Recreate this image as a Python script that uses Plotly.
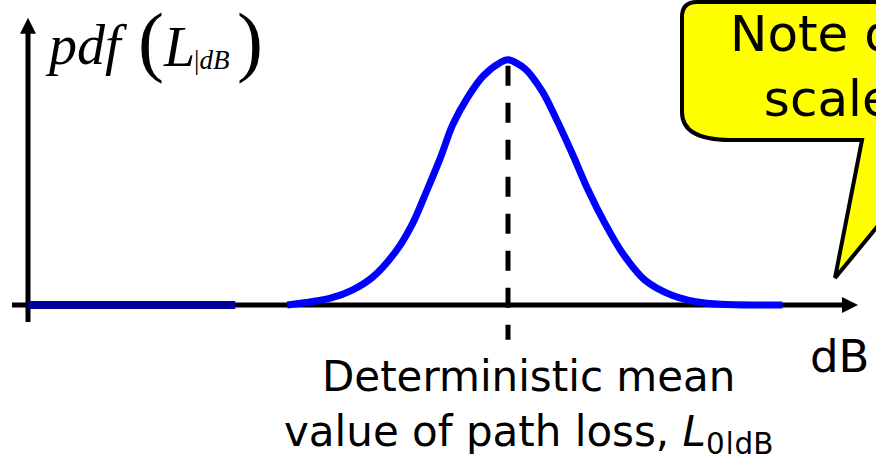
import plotly.graph_objects as go

W, H = 876, 454

# Path loss (dB) and its shadowing density
loss_db = [32.4, 37.8, 40.6, 43.1, 46.1, 48.1, 49.9, 51.5, 53.1, 54.9, 56.9, 59.0, 60.0,
           62.1, 64.3, 65.9, 68.0, 70.0, 72.1, 74.3, 77.1, 80.5, 84.6, 94.3]
pdf_vals = [0.0, 0.0014, 0.0031, 0.0057, 0.0112, 0.0167, 0.0235, 0.0298, 0.0368, 0.0422,
            0.0467, 0.0494, 0.0500, 0.0482, 0.0435, 0.0384, 0.0310, 0.0235, 0.0167, 0.0106,
            0.0051, 0.0020, 0.0004, 0.0]
# flat lower tail drawn along the axis
tail_db = [0.0, 25.9]
tail_pdf = [0.0, 0.0]
mean_db = 60.0

# axis extents (data units)
X_RANGE = [-3.5, 106.0]
Y_RANGE = [-0.0304, 0.0622]
X_AXIS = [-2.0, 101.9, 103.75]      # start, line end, arrow tip
Y_AXIS = [-0.0035, 0.0557, 0.0586]  # start, line end, arrow tip
MEAN_LINE = [0.0488, -0.0071]

FONT = "DejaVu Sans"
SERIF = "Liberation Serif"


def px(x):
    return x / W


def py(y):
    return 1 - y / H


fig = go.Figure()

fig.add_trace(go.Scatter(
    x=tail_db, y=tail_pdf, mode="lines",
    line=dict(color="#000099", width=8), hoverinfo="skip", showlegend=False))
fig.add_trace(go.Scatter(
    x=loss_db, y=pdf_vals, mode="lines",
    line=dict(color="#0000ff", width=7, shape="spline", smoothing=0.9),
    hoverinfo="skip", showlegend=False))

shapes = []
# horizontal (dB) axis with arrow
shapes.append(dict(type="line", xref="x", yref="y", x0=X_AXIS[0], x1=X_AXIS[1], y0=0, y1=0,
                   line=dict(color="black", width=5), layer="below"))
shapes.append(dict(type="path", xref="x", yref="y", xsizemode="pixel", ysizemode="pixel",
                   xanchor=X_AXIS[2], yanchor=0, path="M-16,-8L0,0L-16,8Z",
                   fillcolor="black", line=dict(width=0)))
# vertical (pdf) axis with arrow
shapes.append(dict(type="line", xref="x", yref="y", x0=0, x1=0, y0=Y_AXIS[0], y1=Y_AXIS[1],
                   line=dict(color="black", width=5), layer="below"))
shapes.append(dict(type="path", xref="x", yref="y", xsizemode="pixel", ysizemode="pixel",
                   xanchor=0, yanchor=Y_AXIS[2], path="M-8,-16L0,0L8,-16Z",
                   fillcolor="black", line=dict(width=0)))
# dashed marker at the mean
shapes.append(dict(type="line", xref="x", yref="y", x0=mean_db, x1=mean_db,
                   y0=MEAN_LINE[0], y1=MEAN_LINE[1],
                   line=dict(color="black", width=5, dash="20px,17px")))

# speech-bubble callout
bubble = [("M", 862, 140), ("L", 835, 278), ("L", 905, 193), ("L", 905, 2),
          ("L", 697, 2)]
path = "".join(f"{c}{px(x):.5f},{py(y):.5f}" for c, x, y in bubble)
path += f"Q{px(682):.5f},{py(2):.5f} {px(682):.5f},{py(17):.5f}"
path += f"L{px(682):.5f},{py(112):.5f}"
path += (f"C{px(682):.5f},{py(132):.5f} {px(700):.5f},{py(140):.5f} "
         f"{px(730):.5f},{py(140):.5f}Z")
shapes.append(dict(type="path", xref="paper", yref="paper", path=path,
                   fillcolor="#ffff00", line=dict(color="black", width=4)))

annotations = [
    dict(text="<i>pdf</i>", x=px(43), y=py(45), xanchor="left", yanchor="middle",
         font=dict(family=SERIF, size=56, color="black")),
    dict(text="(", x=px(136), y=py(40), xanchor="left", yanchor="middle",
         font=dict(family=SERIF, size=78, color="black")),
    dict(text="<i>L</i>", x=px(161), y=py(47), xanchor="left", yanchor="middle",
         font=dict(family=SERIF, size=56, color="black")),
    dict(text="|<i>dB</i>", x=px(192), y=py(60), xanchor="left", yanchor="middle",
         font=dict(family=SERIF, size=27, color="black")),
    dict(text=")", x=px(235), y=py(40), xanchor="left", yanchor="middle",
         font=dict(family=SERIF, size=78, color="black")),
    dict(text="Deterministic mean<br>value of path loss, <i>L</i><sub>0|dB</sub>",
         x=px(528), y=py(407), xanchor="center", yanchor="middle", align="center",
         font=dict(family=FONT, size=42, color="black")),
    dict(text="dB", x=px(808), y=py(356), xanchor="left", yanchor="middle",
         font=dict(family=FONT, size=45, color="black")),
    dict(text="Note on<br>scale", x=px(828), y=py(66), xanchor="center", yanchor="middle",
         align="center", font=dict(family=FONT, size=50, color="black")),
]
for a in annotations:
    a.update(xref="paper", yref="paper", showarrow=False)

fig.update_layout(
    width=W, height=H,
    margin=dict(l=0, r=0, t=0, b=0, pad=0),
    paper_bgcolor="white", plot_bgcolor="white",
    xaxis=dict(range=X_RANGE, visible=False, fixedrange=True),
    yaxis=dict(range=Y_RANGE, visible=False, fixedrange=True),
    shapes=shapes, annotations=annotations, showlegend=False,
)

fig.write_html("out.html", config={"displayModeBar": False})
